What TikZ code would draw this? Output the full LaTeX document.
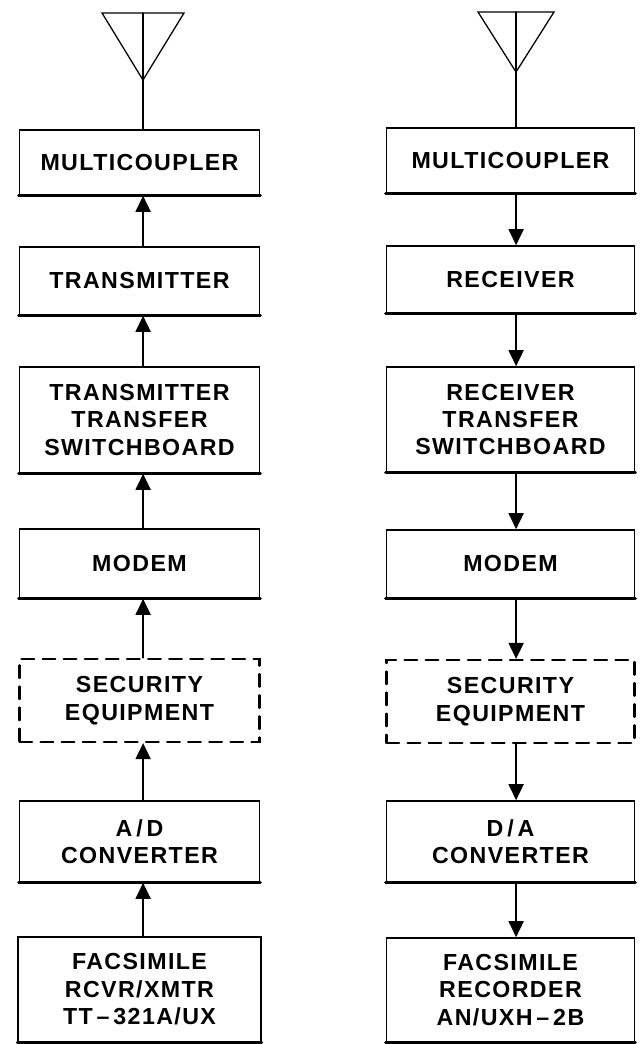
\documentclass[tikz,border=0pt]{standalone}
\usepackage{fontspec}
\newfontfamily\blkfont{Liberation Sans}[LetterSpace=6]
\usetikzlibrary{calc,arrows.meta}

\begin{document}
\begin{tikzpicture}[
  x=0.025cm, y=-0.025cm,
  >={Triangle[width=0.38cm,length=0.4cm]},
  line cap=round,
  blk/.style={draw, line width=1.2pt, align=center, inner sep=0pt,
    font=\blkfont\bfseries\fontsize{16.5}{19.5}\selectfont},
  dsh/.style={blk, dash pattern=on 9pt off 6pt, line width=1.6pt},
  lnk/.style={->, line width=0.9pt},
  ant/.style={line width=0.9pt, line join=miter}
]
\useasboundingbox (0,0) rectangle (642,1044);

%========== transmit side ==========
\begin{scope}[every node/.append style={minimum width=6cm}]
  \node[blk, minimum height=1.625cm] (mcT) at (139.5,162.5) {MULTICOUPLER};
  \node[blk, minimum height=1.7cm]   (txT) at (139.5,281)   {TRANSMITTER};
  \node[blk, minimum height=2.65cm]  (tsT) at (139.5,420)   {TRANSMITTER\\TRANSFER\\SWITCHBOARD};
  \node[blk, minimum height=1.725cm] (moT) at (139.5,563.5) {MODEM};
  \node[dsh, minimum height=2.075cm] (seT) at (139.5,700.5) {SECURITY\\EQUIPMENT};
  \node[blk, minimum height=2.025cm] (adT) at (139.5,841.5) {A\,/\,D\\CONVERTER};
  \node[blk, minimum height=2.625cm, minimum width=6.07cm] (faT) at (139.5,989.5) {FACSIMILE\\RCVR/XMTR\\TT\,\textendash\,321A/UX};
\end{scope}
% antenna
\coordinate (ttT) at (143,13);
\coordinate (apT) at (143,80);
\draw[ant] ($(ttT)+(-41,0)$) -- ($(ttT)+(41,0)$) -- (apT) -- cycle;
\draw[ant] (ttT) -- (ttT |- mcT.north);
% signal path, upwards
\foreach \a/\b in {faT/adT, adT/seT, seT/moT, moT/tsT, tsT/txT, txT/mcT}{%
  \draw[lnk] ([xshift=0.09cm]\a.north) -- ([xshift=0.09cm]\b.south);}

%========== receive side ==========
\begin{scope}[every node/.append style={minimum width=6.2cm}]
  \node[blk, minimum height=1.625cm] (mcR) at (510.5,160.5) {MULTICOUPLER};
  \node[blk, minimum height=1.675cm] (rxR) at (510.5,279.5) {RECEIVER};
  \node[blk, minimum height=2.625cm] (tsR) at (510.5,419.5) {RECEIVER\\TRANSFER\\SWITCHBOARD};
  \node[blk, minimum height=1.7cm]   (moR) at (510.5,564)   {MODEM};
  \node[dsh, minimum height=2.075cm] (seR) at (510.5,701.5) {SECURITY\\EQUIPMENT};
  \node[blk, minimum height=2.025cm] (daR) at (510.5,841.5) {D\,/\,A\\CONVERTER};
  \node[blk, minimum height=2.6cm]   (faR) at (510.5,990)   {FACSIMILE\\RECORDER\\AN/UXH\,\textendash\,2B};
\end{scope}
% antenna
\coordinate (ttR) at (516,12);
\coordinate (apR) at (516,72);
\draw[ant] ($(ttR)+(-38,0)$) -- ($(ttR)+(38,0)$) -- (apR) -- cycle;
\draw[ant] (ttR) -- (ttR |- mcR.north);
% signal path, downwards
\foreach \a/\b in {mcR/rxR, rxR/tsR, tsR/moR, moR/seR, seR/daR, daR/faR}{%
  \draw[lnk] ([xshift=0.14cm]\a.south) -- ([xshift=0.14cm]\b.north);}

% heavier lower edges
\foreach \n in {mcT,txT,tsT,moT,adT,faT,mcR,rxR,tsR,moR,daR,faR}{%
  \draw[line width=2pt] (\n.south west) -- (\n.south east);}
\end{tikzpicture}
\end{document}
